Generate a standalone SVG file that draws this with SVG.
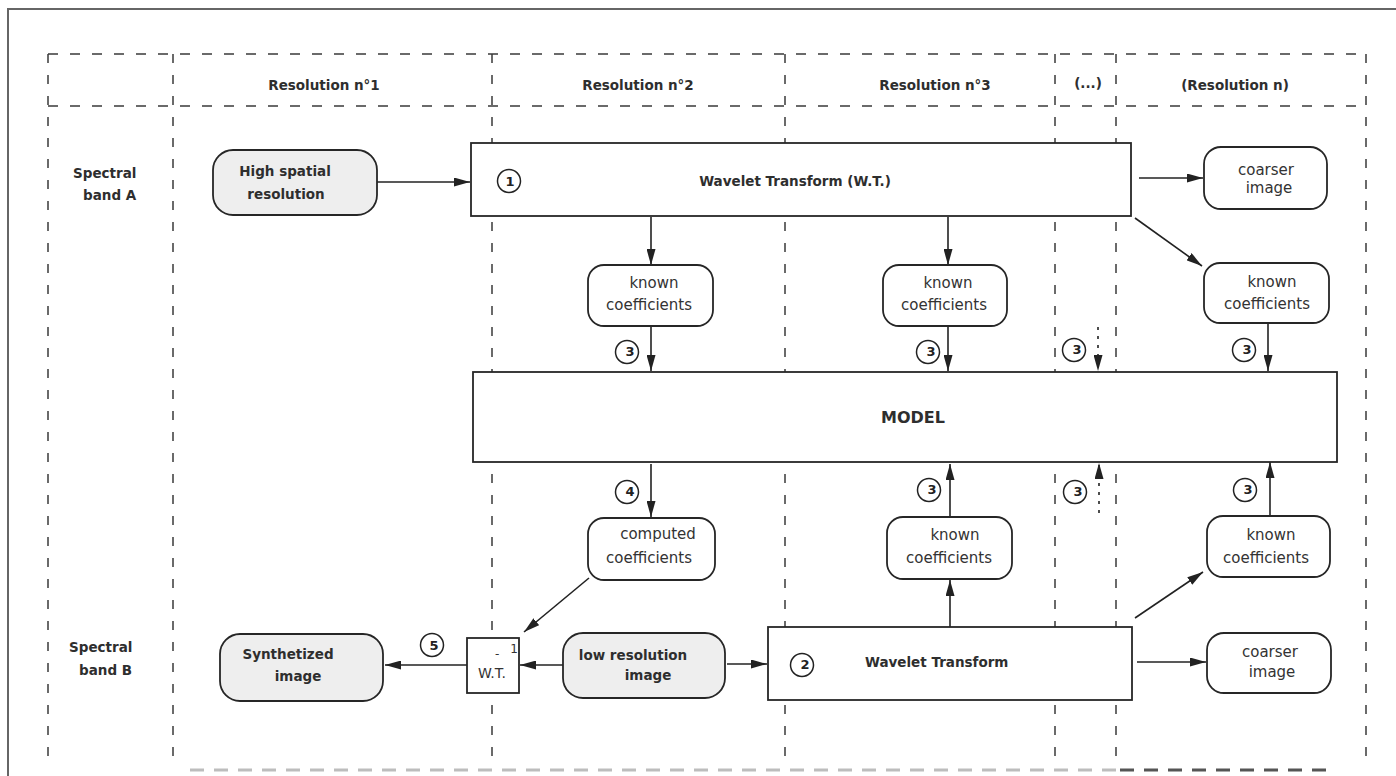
<svg xmlns="http://www.w3.org/2000/svg" width="1396" height="776" viewBox="0 0 1396 776">
  <style>
    .grid { stroke: #3a3a3a; stroke-width: 1.5; stroke-dasharray: 9 12; fill: none; }
    .hgrid { stroke: #3a3a3a; stroke-width: 1.5; stroke-dasharray: 10 12; fill: none; }
    .box { fill: #ffffff; stroke: #262626; stroke-width: 1.8; }
    .grey { fill: #eeeeee; stroke: #262626; stroke-width: 1.8; }
    .hdr { font-family: "DejaVu Sans", "Liberation Sans", sans-serif; font-weight: bold; font-size: 13.5px; fill: #2e2e2e; text-anchor: middle; }
    .big { font-family: "DejaVu Sans", "Liberation Sans", sans-serif; font-weight: bold; font-size: 16px; fill: #2e2e2e; text-anchor: middle; }
    .lbl { font-family: "DejaVu Sans", "Liberation Sans", sans-serif; font-weight: bold; font-size: 13.5px; fill: #2e2e2e; }
    .txt { font-family: "DejaVu Sans", "Liberation Sans", sans-serif; font-size: 15px; fill: #333333; text-anchor: middle; }
    .num { font-family: "DejaVu Sans", "Liberation Sans", sans-serif; font-weight: bold; font-size: 13px; fill: #222222; text-anchor: middle; }
    .wt { font-family: "DejaVu Sans", "Liberation Sans", sans-serif; font-size: 14px; fill: #333333; }
    .sup { font-family: "DejaVu Sans", "Liberation Sans", sans-serif; font-size: 12px; fill: #333333; }
    .ring { fill: #ffffff; stroke: #222222; stroke-width: 1.5; }
    .arrow { stroke: #222222; stroke-width: 1.6; fill: none; marker-end: url(#ah); }
    .dotted { stroke: #222222; stroke-width: 1.6; fill: none; stroke-dasharray: 3 6; marker-end: url(#ah); }
  </style>
  <defs>
    <marker id="ah" viewBox="0 0 16 9" refX="16" refY="4.5" markerWidth="16" markerHeight="9" markerUnits="userSpaceOnUse" orient="auto">
      <path d="M0,0 L16,4.5 L0,9 z" fill="#222222"/>
    </marker>
  </defs>

  <rect x="0" y="0" width="1396" height="776" fill="#ffffff"/>

  <!-- page frame -->
  <g id="frame">
    <path d="M8,776 L8,9 L1396,9" fill="none" stroke="#666666" stroke-width="2"/>
    <line x1="190" y1="770" x2="1120" y2="770" stroke="#bdbdbd" stroke-width="3" stroke-dasharray="14 10"/>
    <line x1="1120" y1="770" x2="1335" y2="770" stroke="#555555" stroke-width="3" stroke-dasharray="14 10"/>
  </g>

  <!-- table grid -->
  <g id="grid">
    <line class="hgrid" x1="48" y1="54" x2="1366" y2="54"/>
    <line class="hgrid" x1="48" y1="106" x2="1366" y2="106"/>
    <line class="grid" x1="48" y1="54" x2="48" y2="762"/>
    <line class="grid" x1="173" y1="54" x2="173" y2="762"/>
    <line class="grid" x1="492" y1="54" x2="492" y2="762"/>
    <line class="grid" x1="785" y1="54" x2="785" y2="762"/>
    <line class="grid" x1="1055" y1="54" x2="1055" y2="762"/>
    <line class="grid" x1="1116" y1="54" x2="1116" y2="762"/>
    <line class="grid" x1="1366" y1="54" x2="1366" y2="762"/>
  </g>

  <!-- column and row headings -->
  <g id="headings">
    <text class="hdr" x="324" y="90">Resolution n°1</text>
    <text class="hdr" x="638" y="90">Resolution n°2</text>
    <text class="hdr" x="935" y="90">Resolution n°3</text>
    <text class="hdr" x="1088" y="88">(...)</text>
    <text class="hdr" x="1235" y="90">(Resolution n)</text>
    <text class="lbl" x="73" y="178">Spectral</text>
    <text class="lbl" x="83" y="200">band A</text>
    <text class="lbl" x="69" y="652">Spectral</text>
    <text class="lbl" x="79" y="675">band B</text>
  </g>

  <!-- connectors -->
  <g id="connectors">
    <line class="arrow" x1="377" y1="182" x2="470" y2="182"/>
    <line class="arrow" x1="651" y1="217" x2="651" y2="265"/>
    <line class="arrow" x1="948" y1="217" x2="948" y2="265"/>
    <line class="arrow" x1="1135" y1="218" x2="1202" y2="266"/>
    <line class="arrow" x1="1139" y1="178" x2="1203" y2="178"/>
    <line class="arrow" x1="651" y1="326" x2="651" y2="371"/>
    <line class="arrow" x1="948" y1="326" x2="948" y2="371"/>
    <line class="dotted" x1="1098" y1="327" x2="1098" y2="371"/>
    <line class="arrow" x1="1268" y1="323" x2="1268" y2="371"/>
    <line class="arrow" x1="651" y1="464" x2="651" y2="517"/>
    <line class="arrow" x1="950" y1="627" x2="950" y2="580"/>
    <line class="arrow" x1="950" y1="517" x2="950" y2="464"/>
    <line class="dotted" x1="1099" y1="513" x2="1099" y2="463"/>
    <line class="arrow" x1="1270" y1="516" x2="1270" y2="462"/>
    <line class="arrow" x1="1135" y1="618" x2="1203" y2="572"/>
    <line class="arrow" x1="1137" y1="662" x2="1206" y2="662"/>
    <line class="arrow" x1="727" y1="664" x2="767" y2="664"/>
    <line class="arrow" x1="563" y1="665" x2="520" y2="665"/>
    <line class="arrow" x1="467" y1="665" x2="385" y2="665"/>
    <line class="arrow" x1="589" y1="578" x2="524" y2="632"/>
  </g>

  <!-- band A input -->
  <g id="high-res">
    <rect class="grey" x="213" y="150" width="164" height="65" rx="20"/>
    <text class="hdr" x="285" y="176">High spatial</text>
    <text class="hdr" x="286" y="199">resolution</text>
  </g>

  <g id="wt-a">
    <rect class="box" x="471" y="143" width="660" height="73"/>
    <text class="hdr" x="795" y="186">Wavelet Transform (W.T.)</text>
    <circle class="ring" cx="509" cy="181" r="11.5"/>
    <text class="num" x="510" y="186">1</text>
  </g>

  <g id="coarser-a">
    <rect class="box" x="1204" y="147" width="123" height="62" rx="17"/>
    <text class="txt" x="1266" y="175">coarser</text>
    <text class="txt" x="1269" y="193">image</text>
  </g>

  <g id="known-a2">
    <rect class="box" x="588" y="265" width="125" height="61" rx="16"/>
    <text class="txt" x="654" y="288">known</text>
    <text class="txt" x="649" y="310">coefficients</text>
  </g>

  <g id="known-a3">
    <rect class="box" x="883" y="265" width="124" height="61" rx="16"/>
    <text class="txt" x="948" y="288">known</text>
    <text class="txt" x="944" y="310">coefficients</text>
  </g>

  <g id="known-an">
    <rect class="box" x="1204" y="263" width="125" height="60" rx="16"/>
    <text class="txt" x="1272" y="287">known</text>
    <text class="txt" x="1267" y="309">coefficients</text>
  </g>

  <!-- step markers, upper row -->
  <g id="steps-a">
    <circle class="ring" cx="627" cy="352" r="11.5"/>
    <text class="num" x="630" y="356">3</text>
    <circle class="ring" cx="928" cy="352" r="11.5"/>
    <text class="num" x="931" y="356">3</text>
    <circle class="ring" cx="1074" cy="350" r="11.5"/>
    <text class="num" x="1077" y="354">3</text>
    <circle class="ring" cx="1244" cy="350" r="11.5"/>
    <text class="num" x="1247" y="354">3</text>
  </g>

  <g id="model">
    <rect class="box" x="473" y="372" width="864" height="90"/>
    <text class="big" x="913" y="423">MODEL</text>
  </g>

  <!-- step markers, lower row -->
  <g id="steps-b">
    <circle class="ring" cx="627" cy="492" r="11.5"/>
    <text class="num" x="630" y="496">4</text>
    <circle class="ring" cx="929" cy="490" r="11.5"/>
    <text class="num" x="932" y="494">3</text>
    <circle class="ring" cx="1075" cy="492" r="11.5"/>
    <text class="num" x="1078" y="496">3</text>
    <circle class="ring" cx="1245" cy="490" r="11.5"/>
    <text class="num" x="1248" y="494">3</text>
  </g>

  <g id="computed">
    <rect class="box" x="588" y="518" width="127" height="62" rx="16"/>
    <text class="txt" x="658" y="539">computed</text>
    <text class="txt" x="649" y="563">coefficients</text>
  </g>

  <g id="known-b3">
    <rect class="box" x="887" y="517" width="125" height="62" rx="16"/>
    <text class="txt" x="955" y="540">known</text>
    <text class="txt" x="949" y="563">coefficients</text>
  </g>

  <g id="known-bn">
    <rect class="box" x="1207" y="516" width="123" height="61" rx="16"/>
    <text class="txt" x="1271" y="540">known</text>
    <text class="txt" x="1266" y="563">coefficients</text>
  </g>

  <g id="coarser-b">
    <rect class="box" x="1207" y="633" width="124" height="60" rx="17"/>
    <text class="txt" x="1270" y="657">coarser</text>
    <text class="txt" x="1272" y="677">image</text>
  </g>

  <g id="wt-b">
    <rect class="box" x="768" y="627" width="364" height="73"/>
    <text class="lbl" x="865" y="667">Wavelet Transform</text>
    <circle class="ring" cx="802" cy="665" r="11.5"/>
    <text class="num" x="805" y="669">2</text>
  </g>

  <g id="low-res">
    <rect class="grey" x="563" y="633" width="162" height="65" rx="20"/>
    <text class="hdr" x="633" y="660">low resolution</text>
    <text class="hdr" x="648" y="680">image</text>
  </g>

  <g id="inverse-wt">
    <rect class="box" x="467" y="638" width="52" height="55"/>
    <text class="wt" x="478" y="678">W.T.</text>
    <text class="sup" x="495" y="658">-<tspan dx="11" dy="-5">1</tspan></text>
  </g>

  <g id="step-5">
    <circle class="ring" cx="432" cy="645" r="11.5"/>
    <text class="num" x="434" y="650">5</text>
  </g>

  <g id="synthetized">
    <rect class="grey" x="220" y="634" width="163" height="67" rx="20"/>
    <text class="hdr" x="288" y="659">Synthetized</text>
    <text class="hdr" x="298" y="681">image</text>
  </g>
</svg>
